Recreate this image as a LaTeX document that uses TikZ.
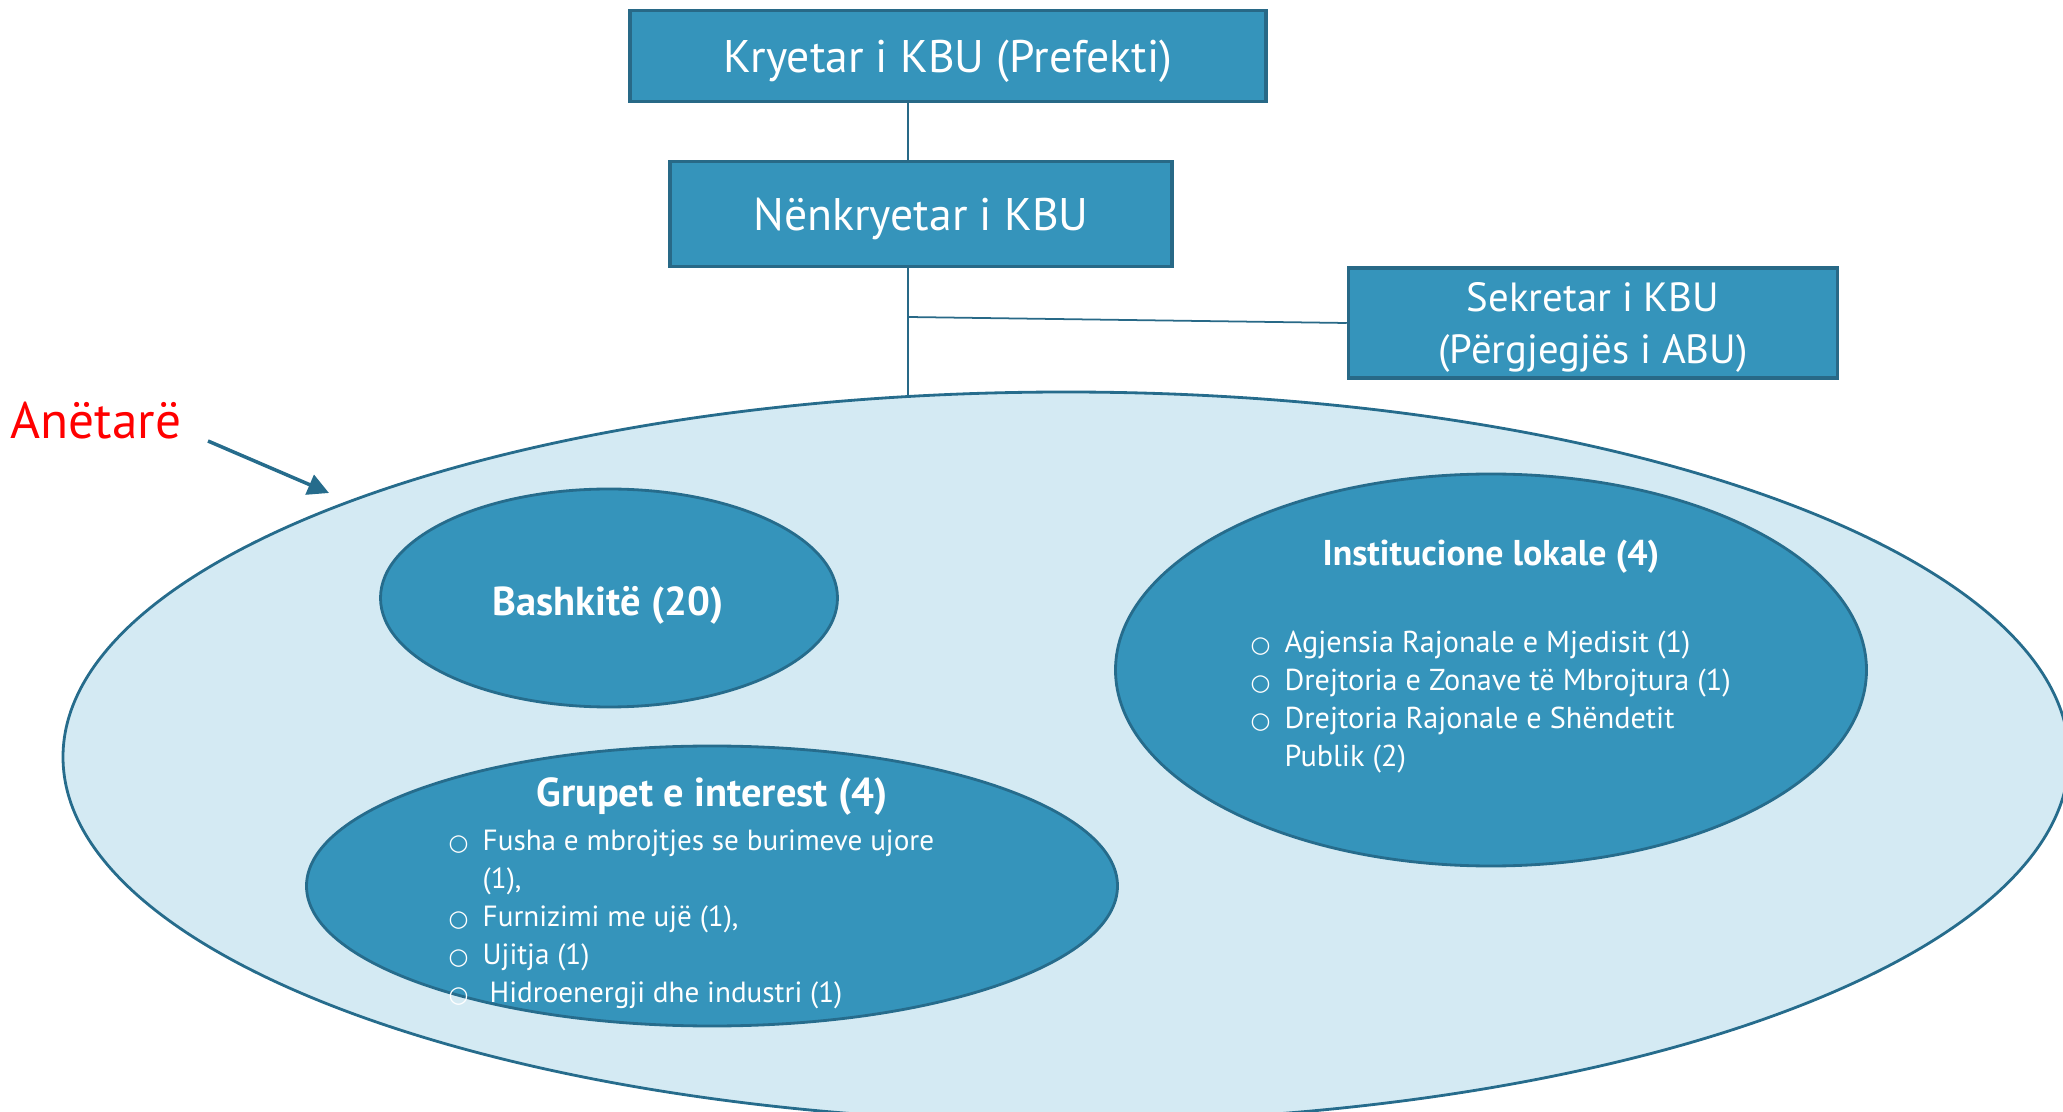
\documentclass[tikz,border=0pt]{standalone}
\usepackage{fontspec}
\setmainfont{PT Sans}
\newfontfamily\symfont{DejaVu Sans}
\usetikzlibrary{arrows.meta,shapes.geometric}
\definecolor{kbublue}{RGB}{53,148,187}
\definecolor{kbuedge}{RGB}{40,105,135}
\definecolor{anetarfill}{RGB}{212,234,243}
\definecolor{anetaredge}{RGB}{38,108,140}
\newcommand{\bul}{{\symfont\fontsize{6.5}{6.5}\selectfont ○}}

\tikzset{
  kbubox/.style={draw=kbuedge, line width=1pt, fill=kbublue, text=white, inner sep=0pt,
    text depth=0pt, font=\fontsize{13}{14.6}\selectfont},
  kbuoval/.style={ellipse, draw=anetaredge, line width=0.8pt, fill=kbublue, inner sep=0pt},
  titull/.style={text=white, font=\bfseries\fontsize{11}{13}\selectfont},
  lista/.style={text=white, align=left, inner sep=0pt, anchor=west,
    font=\fontsize{8.6}{10.8}\selectfont},
  lidhje/.style={draw=kbuedge, line width=0.5pt},
}

\begin{document}
\begin{tikzpicture}
    \useasboundingbox (0,0) rectangle (20.63,-11.12);
    \clip (0,0) rectangle (20.63,-11.12);

    % anetaret
    \node[ellipse, draw=anetaredge, line width=0.8pt, fill=anetarfill, inner sep=0pt,
      minimum width=20.06cm, minimum height=7.3cm] (anetaret) at (10.66,-7.57) {};

    \node[kbuoval, minimum width=4.57cm, minimum height=2.18cm] (bashkite) at (6.09,-5.98) {};
    \node[kbuoval, minimum width=7.51cm, minimum height=3.92cm] (institucione) at (14.91,-6.70) {};
    \node[kbuoval, minimum width=8.11cm, minimum height=2.80cm] (grupet) at (7.12,-8.86) {};

    \node[titull, font=\bfseries\fontsize{11.5}{13}\selectfont] (bashkitetxt) at (6.08,-6.05) {Bashkitë (20)};
    \node[titull, font=\bfseries\fontsize{10.2}{13}\selectfont] (institxt) at (14.91,-5.57) {Institucione lokale (4)};
    \node[lista] (instilista) at (12.50,-7.02) {%
      \bul\hspace{4pt}Agjensia Rajonale e Mjedisit (1)\\
      \bul\hspace{4pt}Drejtoria e Zonave të Mbrojtura (1)\\
      \bul\hspace{4pt}Drejtoria Rajonale e Shëndetit\\
      \phantom{\bul}\hspace{4pt}Publik (2)};
    \node[titull, font=\bfseries\fontsize{11.5}{13}\selectfont] (grupettxt) at (7.12,-7.97) {Grupet e interest (4)};
    \node[lista, font=\fontsize{8.3}{10.8}\selectfont] (grupetlista) at (4.48,-9.19) {%
      \bul\hspace{4pt}Fusha e mbrojtjes se burimeve ujore\\
      \phantom{\bul}\hspace{4pt}(1),\\
      \bul\hspace{4pt}Furnizimi me ujë (1),\\
      \bul\hspace{4pt}Ujitja (1)\\
      \bul\hspace{6pt}Hidroenergji dhe industri (1)};

    % kryesia
    \node[kbubox, minimum width=6.36cm, minimum height=0.91cm] (kryetar) at (9.48,-0.56) {Kryetar i KBU (Prefekti)};
    \node[kbubox, minimum width=5.02cm, minimum height=1.05cm] (nenkryetar) at (9.21,-2.14) {Nënkryetar i KBU};
    \node[kbubox, minimum width=4.89cm, minimum height=1.10cm, align=center,
      font=\fontsize{11.6}{14.6}\selectfont] (sekretar) at (15.93,-3.23)
      {Sekretar i KBU\\(Përgjegjës i ABU)};

    \coordinate (bosht) at (9.08,0);
    \coordinate (dege) at (9.08,-3.17);
    \coordinate (maje) at (9.08,-3.95);
    \draw[lidhje] (kryetar.south -| bosht) -- (nenkryetar.north -| bosht);
    \draw[lidhje] (nenkryetar.south -| bosht) -- (maje);
    \draw[lidhje] (dege) -- (sekretar.west);

    % etiketa
    \node[text=red, anchor=west, inner sep=0pt, font=\fontsize{14.6}{18}\selectfont] (etiketa) at (0.10,-4.21) {Anëtarë};
    \coordinate (shigjetafill) at (2.08,-4.41);
    \coordinate (shigjetafund) at (3.29,-4.93);
    \draw[anetaredge, line width=1pt, -{Triangle[length=6pt,width=6pt]}] (shigjetafill) -- (shigjetafund);
\end{tikzpicture}
\end{document}
